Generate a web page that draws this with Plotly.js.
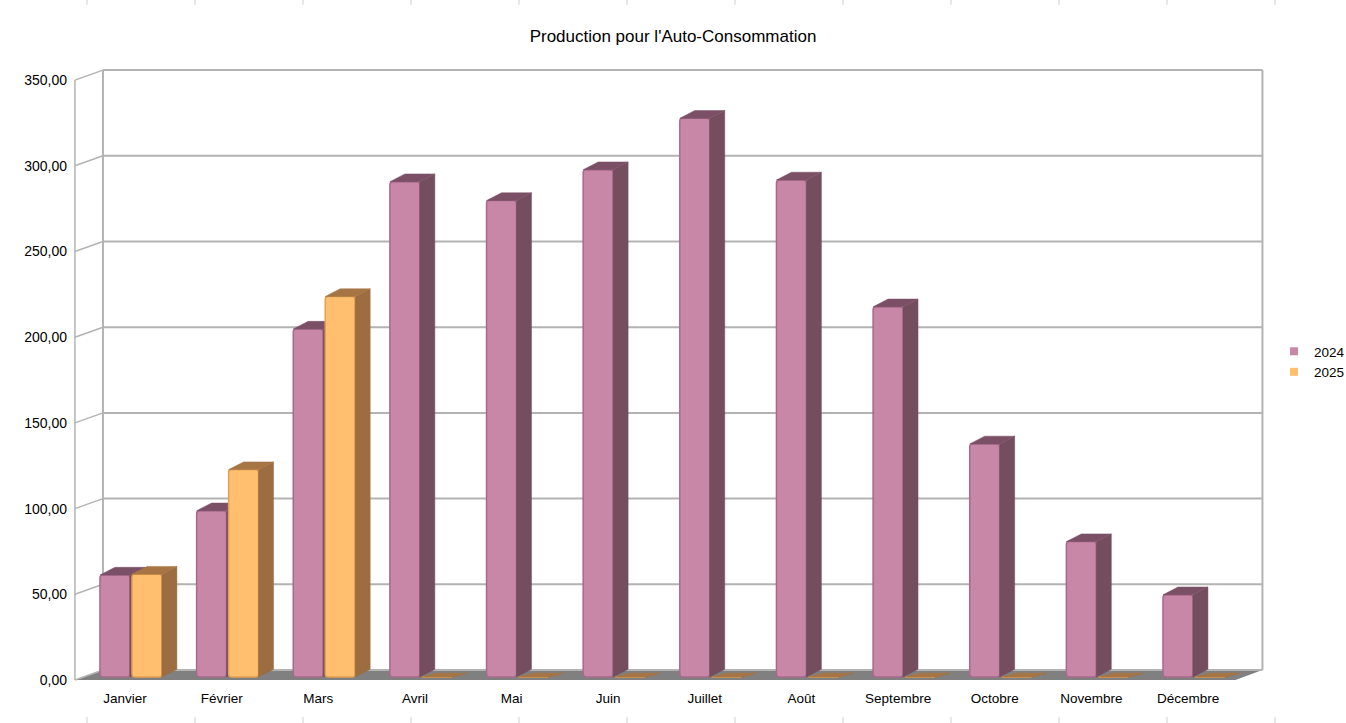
<!DOCTYPE html>
<html>
<head>
<meta charset="utf-8">
<script src="https://cdn.plot.ly/plotly-3.0.1.min.js"></script>
<style>
  html, body { margin: 0; padding: 0; background: #ffffff; }
  #chart { width: 1346px; height: 723px; }
</style>
</head>
<body>
<div id="chart"></div>
<script>
// chart data
var months = ['Janvier', 'Février', 'Mars', 'Avril', 'Mai', 'Juin',
              'Juillet', 'Août', 'Septembre', 'Octobre', 'Novembre', 'Décembre'];
var prod2024 = [59.5, 97, 203, 289, 278, 296, 326, 290, 216, 136, 79, 48];
var prod2025 = [60, 121, 222, 0, 0, 0, 0, 0, 0, 0, 0, 0];
var yTicks = [0, 50, 100, 150, 200, 250, 300, 350];

// fake 3D geometry, in axis units
var BAR_W = 0.31;      // front face width
var BASE = 1.75;       // bars stand a bit behind the front edge of the floor
var DX = 0.155;        // depth of a bar, horizontally
var DY = 4.5;          // depth of a bar, vertically
var WALL_DX = 0.29;    // depth of the floor / side wall
var WALL_DY = 5.83;
var X_LEFT = -0.518;   // front edge of the side wall
var X_RIGHT = 11.77;   // right edge of the back wall
var FLOOR_FRONT_RIGHT = 11.49;

var gridColor = '#b3b3b3';

// side and top faces of each bar, as filled polygons
function faces(vals, off) {
    var side = {x: [], y: []};
    var top = {x: [], y: []};
    vals.forEach(function (v, i) {
        var x0 = i + off, x1 = x0 + BAR_W;
        var y0 = BASE, y1 = BASE + v;
        // a bar with no height only shows a thin sliver on the floor
        var dy = v > 0 ? DY : DY * 0.5;
        side.x.push(x1, x1, x1 + DX, x1 + DX, x1, null);
        side.y.push(y0, y1, y1 + dy, y0 + dy, y0, null);
        top.x.push(x0, x1, x1 + DX, x0 + DX, x0, null);
        top.y.push(y1, y1, y1 + dy, y1 + dy, y1, null);
    });
    return [side, top];
}

function faceTrace(pts, color, xa, ya) {
    return {
        x: pts.x, y: pts.y,
        xaxis: xa, yaxis: ya,
        type: 'scatter', mode: 'lines',
        fill: 'toself', fillcolor: color,
        line: {color: color, width: 0.5},
        hoverinfo: 'skip', showlegend: false
    };
}

function frontTrace(vals, name, off, color, edge, xa, ya) {
    return {
        x: months.map(function (m, i) { return i; }),
        y: vals,
        base: BASE,
        offset: off,
        width: BAR_W,
        xaxis: xa, yaxis: ya,
        type: 'bar',
        name: name,
        showlegend: false,
        marker: {color: color, line: {color: edge, width: 1.5}, cornerradius: 3}
    };
}

// small square legend keys, like the original
function legendKey(name, color) {
    return {
        x: [null], y: [null], type: 'scatter', mode: 'markers', name: name,
        marker: {symbol: 'square', size: 8, color: color, line: {width: 0}}
    };
}

var f24 = faces(prod2024, -0.259);
var f25 = faces(prod2025, 0.072);

var data = [
    faceTrace(f24[0], '#744d5f', 'x', 'y'),
    faceTrace(f24[1], '#7b5066', 'x', 'y'),
    frontTrace(prod2024, '2024', -0.259, '#c987a8', '#a8698a', 'x', 'y'),
    faceTrace(f25[0], '#9c6d40', 'x2', 'y2'),
    faceTrace(f25[1], '#a67543', 'x2', 'y2'),
    frontTrace(prod2025, '2025', 0.072, '#ffbf6f', '#e3a04f', 'x2', 'y2'),
    legendKey('2024', '#c987a8'),
    legendKey('2025', '#ffbf6f')
];

// walls, floor and grid
var shapes = [];
shapes.push({
    type: 'path', xref: 'x', yref: 'y', layer: 'below',
    path: 'M' + X_LEFT + ',0 L' + FLOOR_FRONT_RIGHT + ',0 L' + X_RIGHT + ',' + WALL_DY +
          ' L' + (X_LEFT + WALL_DX) + ',' + WALL_DY + ' Z',
    fillcolor: '#808080', line: {width: 0}
});
yTicks.forEach(function (v) {
    shapes.push({type: 'line', xref: 'x', yref: 'y', layer: 'below',
        x0: X_LEFT + WALL_DX, x1: X_RIGHT, y0: v + WALL_DY, y1: v + WALL_DY,
        line: {color: gridColor, width: 2}});
    shapes.push({type: 'line', xref: 'x', yref: 'y', layer: 'below',
        x0: X_LEFT, x1: X_LEFT + WALL_DX, y0: v, y1: v + WALL_DY,
        line: {color: gridColor, width: 1.5}});
});
shapes.push({type: 'line', xref: 'x', yref: 'y', layer: 'below',
    x0: X_LEFT, x1: X_LEFT, y0: 0, y1: 350, line: {color: gridColor, width: 1.5}});
shapes.push({type: 'line', xref: 'x', yref: 'y', layer: 'below',
    x0: X_LEFT + WALL_DX, x1: X_LEFT + WALL_DX, y0: WALL_DY, y1: 350 + WALL_DY,
    line: {color: gridColor, width: 2}});
shapes.push({type: 'line', xref: 'x', yref: 'y', layer: 'below',
    x0: X_RIGHT, x1: X_RIGHT, y0: WALL_DY, y1: 350 + WALL_DY,
    line: {color: gridColor, width: 2}});

// spreadsheet cell marks along the top and bottom edges
for (var px = 87; px < 1346; px += 108) {
    var xp = (px - 70) / 1196;
    shapes.push({type: 'line', xref: 'paper', yref: 'paper', layer: 'below',
        x0: xp, x1: xp, y0: (684 - 0) / 618, y1: (684 - 5) / 618,
        line: {color: '#d0d0d0', width: 1}});
    shapes.push({type: 'line', xref: 'paper', yref: 'paper', layer: 'below',
        x0: xp, x1: xp, y0: (684 - 717) / 618, y1: (684 - 723) / 618,
        line: {color: '#d0d0d0', width: 1}});
}

var xRange = [(70 - 125) / 96.64, (1266 - 125) / 96.64];
var yRange = [-4 / 1.714, 614 / 1.714];

var layout = {
    width: 1346,
    height: 723,
    margin: {l: 70, r: 80, t: 66, b: 39, autoexpand: false},
    paper_bgcolor: '#ffffff',
    plot_bgcolor: 'rgba(0,0,0,0)',
    separators: ', ',
    font: {family: '"Liberation Sans", Arial, sans-serif', size: 13.5, color: '#000000'},
    title: {
        text: "Production pour l'Auto-Consommation",
        font: {size: 17, color: '#000000'},
        x: 0.5, xref: 'container', y: 1 - 36 / 723, yref: 'container', yanchor: 'middle'
    },
    barmode: 'overlay',
    showlegend: true,
    legend: {
        x: (1274 - 70) / 1196, xanchor: 'left', y: (684 - 362) / 618, yanchor: 'middle',
        font: {size: 13.5}, itemwidth: 30, tracegroupgap: 0, bgcolor: 'rgba(0,0,0,0)'
    },
    xaxis: {
        range: xRange, fixedrange: true,
        tickvals: months.map(function (m, i) { return i; }),
        ticktext: months,
        showgrid: false, zeroline: false, showline: false, ticks: '',
        ticklabelstandoff: 4
    },
    yaxis: {
        range: yRange, fixedrange: true,
        tickvals: yTicks, tickformat: '.2f',
        showgrid: false, zeroline: false, showline: false, ticks: '',
        tickfont: {size: 14},
        ticklabelstandoff: 2
    },
    xaxis2: {range: xRange, overlaying: 'x', visible: false, fixedrange: true},
    yaxis2: {range: yRange, overlaying: 'y', visible: false, fixedrange: true},
    shapes: shapes
};

Plotly.newPlot('chart', data, layout, {displayModeBar: false, staticPlot: true});
</script>
</body>
</html>
